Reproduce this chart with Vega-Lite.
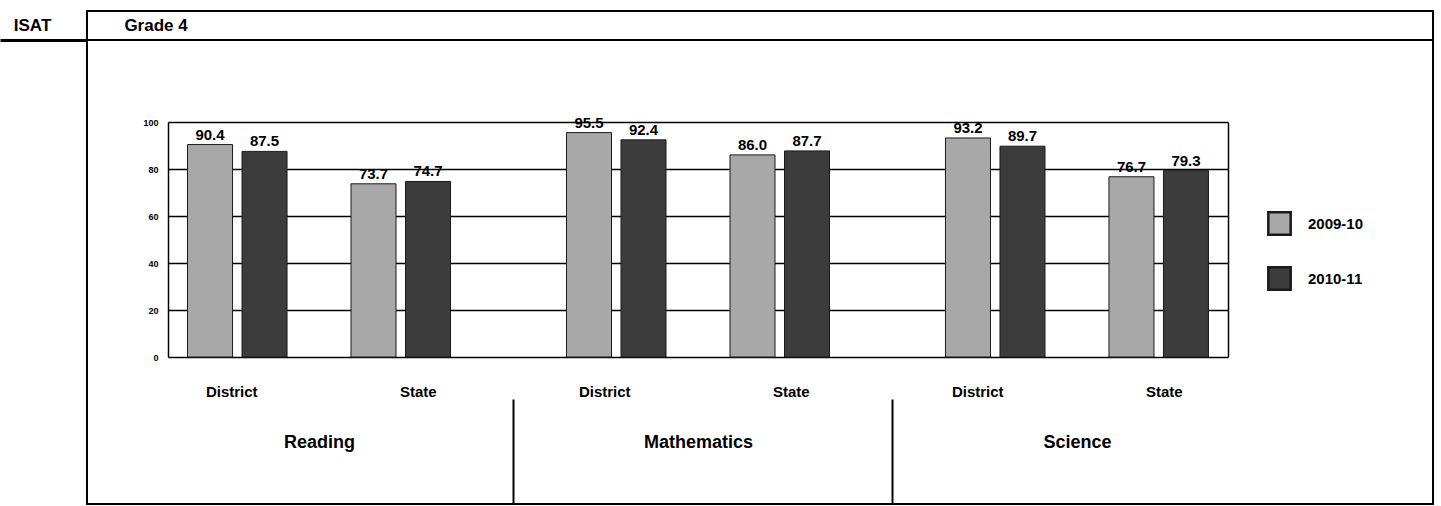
{
  "$schema": "https://vega.github.io/schema/vega-lite/v6.json",
  "padding": {"left": 0, "top": 10, "right": 8, "bottom": 3},
  "background": "white",
  "config": {
    "font": "Liberation Sans",
    "view": {"stroke": "black", "strokeWidth": 2},
    "text": {"font": "Liberation Sans"},
    "axis": {"labelFont": "Liberation Sans"},
    "legend": {"labelFont": "Liberation Sans"}
  },
  "spacing": 0,
  "bounds": "flush",
  "align": "each",
  "columns": 2,
  "concat": [
    {
      "width": 87,
      "height": 29,
      "view": {"stroke": null},
      "data": {"values": [{"t": "ISAT"}]},
      "mark": {"type": "text", "fontSize": 17, "fontWeight": "bold", "color": "black"},
      "encoding": {
        "x": {
          "field": "t", "type": "nominal", "bandPosition": 0.374,
          "scale": {"type": "band", "paddingInner": 0, "paddingOuter": 0},
          "axis": {"orient": "bottom", "title": null, "labels": false, "ticks": false, "domain": true, "domainWidth": 3, "domainColor": "black"}
        },
        "text": {"field": "t"}
      }
    },
    {
      "width": 1346,
      "height": 29,
      "data": {"values": [{"t": "Grade 4"}]},
      "mark": {"type": "text", "fontSize": 17, "fontWeight": "bold", "color": "black"},
      "encoding": {
        "x": {
          "field": "t", "type": "nominal", "bandPosition": 0.0513,
          "scale": {"type": "band", "paddingInner": 0, "paddingOuter": 0},
          "axis": null
        },
        "text": {"field": "t"}
      }
    },
    {
      "width": 87,
      "height": 464,
      "view": {"stroke": null},
      "data": {"values": []},
      "mark": "point"
    },
    {
      "width": 1346,
      "height": 464,
      "data": {
        "values": [
          {"subject": "Reading", "area": "District", "year": "2009-10", "value": 90.4, "slot": "District|2009-10", "key": "Reading|District"},
          {"subject": "Reading", "area": "District", "year": "2010-11", "value": 87.5, "slot": "District|2010-11", "key": "Reading|District"},
          {"subject": "Reading", "area": "State", "year": "2009-10", "value": 73.7, "slot": "State|2009-10", "key": "Reading|State"},
          {"subject": "Reading", "area": "State", "year": "2010-11", "value": 74.7, "slot": "State|2010-11", "key": "Reading|State"},
          {"subject": "Mathematics", "area": "District", "year": "2009-10", "value": 95.5, "slot": "District|2009-10", "key": "Mathematics|District"},
          {"subject": "Mathematics", "area": "District", "year": "2010-11", "value": 92.4, "slot": "District|2010-11", "key": "Mathematics|District"},
          {"subject": "Mathematics", "area": "State", "year": "2009-10", "value": 86.0, "slot": "State|2009-10", "key": "Mathematics|State"},
          {"subject": "Mathematics", "area": "State", "year": "2010-11", "value": 87.7, "slot": "State|2010-11", "key": "Mathematics|State"},
          {"subject": "Science", "area": "District", "year": "2009-10", "value": 93.2, "slot": "District|2009-10", "key": "Science|District"},
          {"subject": "Science", "area": "District", "year": "2010-11", "value": 89.7, "slot": "District|2010-11", "key": "Science|District"},
          {"subject": "Science", "area": "State", "year": "2009-10", "value": 76.7, "slot": "State|2009-10", "key": "Science|State"},
          {"subject": "Science", "area": "State", "year": "2010-11", "value": 79.3, "slot": "State|2010-11", "key": "Science|State"}
        ]
      },
      "layer": [
        {
          "layer": [
            {
              "mark": {"type": "bar", "stroke": "#1a1a1a", "strokeWidth": 1},
              "encoding": {
                "x": {
                  "field": "subject", "type": "nominal",
                  "scale": {"domain": ["Reading", "Mathematics", "Science"], "range": [81, 1141], "paddingInner": 0.306, "paddingOuter": 0.0515},
                  "axis": {
                    "orient": "bottom", "title": null, "domain": false,
                    "tickSize": -105, "tickWidth": 2, "tickColor": "black", "tickOffset": 194, "labelOffset": -194,
                    "tickOpacity": {"condition": {"test": "datum.value === 'Science'", "value": 0}, "value": 1},
                    "labelPadding": 34, "labelFontSize": 18, "labelFontWeight": "bold", "labelColor": "black", "labelAngle": 0
                  }
                },
                "xOffset": {
                  "field": "slot", "type": "nominal",
                  "scale": {"domain": ["District|2009-10", "District|2010-11", "gap", "State|2009-10", "State|2010-11"], "paddingInner": 0.174, "paddingOuter": 0}
                },
                "y": {
                  "field": "value", "type": "quantitative",
                  "scale": {"domain": [0, 100], "range": [317, 82], "nice": false},
                  "axis": {
                    "orient": "left", "offset": -81, "values": [0, 20, 40, 60, 80, 100], "title": null,
                    "grid": true, "gridColor": "black", "gridWidth": 1.5, "gridOpacity": 1,
                    "domain": true, "domainColor": "black", "domainWidth": 1.5, "ticks": false,
                    "labelPadding": 10, "labelFontSize": 9, "labelFontWeight": "bold", "labelColor": "black"
                  }
                },
                "color": {
                  "field": "year", "type": "nominal",
                  "scale": {"domain": ["2009-10", "2010-11"], "range": ["#a8a8a8", "#3c3c3c"]},
                  "legend": {
                    "title": null, "orient": "none", "legendX": 1267, "legendY": 200, "padding": 0,
                    "symbolType": "square", "symbolSize": 500, "symbolStrokeColor": "#1a1a1a", "symbolStrokeWidth": 2.5,
                    "labelFontSize": 15, "labelFontWeight": "bold", "labelColor": "black", "labelOffset": 16, "rowPadding": 22
                  }
                }
              }
            },
            {
              "mark": {"type": "text", "fontSize": 15, "fontWeight": "bold", "baseline": "bottom", "dy": -2, "color": "black"},
              "encoding": {
                "x": {"field": "subject", "type": "nominal"},
                "xOffset": {"field": "slot", "type": "nominal"},
                "y": {
                  "field": "value", "type": "quantitative",
                  "axis": {"orient": "right", "offset": -205, "title": null, "labels": false, "ticks": false, "grid": false, "domain": true, "domainColor": "black", "domainWidth": 1.5}
                },
                "text": {"field": "value", "type": "quantitative", "format": ".1f"}
              }
            }
          ],
          "resolve": {"axis": {"y": "independent"}}
        },
        {
          "mark": {"type": "point", "opacity": 0},
          "encoding": {
            "x": {
              "field": "key", "type": "nominal",
              "scale": {"type": "band", "domain": ["Reading|District", "Reading|State", "Mathematics|District", "Mathematics|State", "Science|District", "Science|State"], "range": [81, 1141], "paddingInner": 0.5, "paddingOuter": 0.092},
              "axis": {
                "orient": "bottom", "offset": -147, "title": null, "ticks": false, "domain": false,
                "labelPadding": 27, "labelFontSize": 15, "labelFontWeight": "bold", "labelColor": "black", "labelAngle": 0,
                "labelExpr": "split(datum.value, '|')[1]"
              }
            }
          }
        }
      ],
      "resolve": {"scale": {"x": "independent"}, "axis": {"x": "independent"}}
    }
  ]
}
